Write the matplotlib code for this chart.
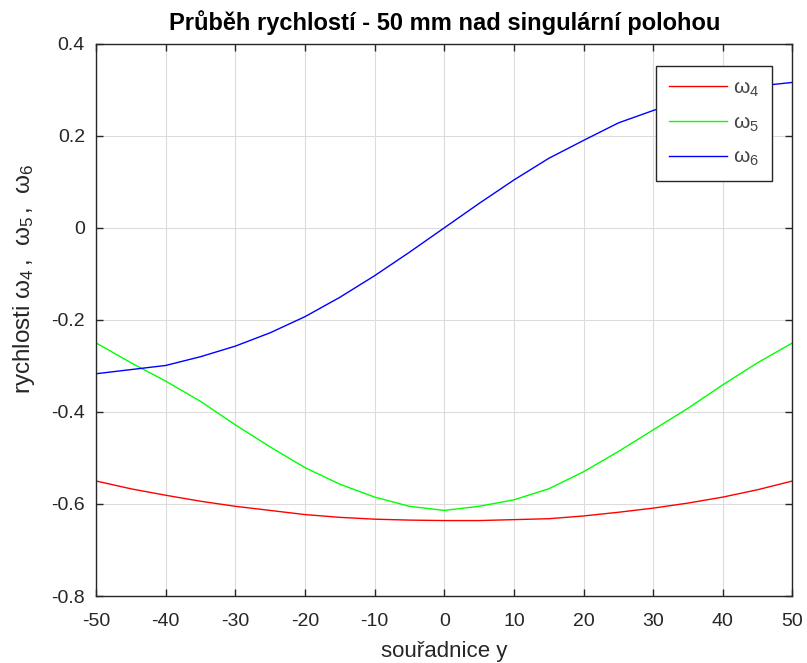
import matplotlib
matplotlib.use("Agg")
import matplotlib.pyplot as plt

plt.rcParams['font.family'] = ['Liberation Sans', 'DejaVu Sans']
plt.rcParams['mathtext.fontset'] = 'custom'
plt.rcParams['mathtext.rm'] = 'Liberation Sans'
plt.rcParams['mathtext.it'] = 'Liberation Sans'
plt.rcParams['axes.unicode_minus'] = False

# souřadnice y
y_coord = [-50, -45, -40, -35, -30, -25, -20, -15, -10, -5, 0,
           5, 10, 15, 20, 25, 30, 35, 40, 45, 50]

# omega 4 (red)
w4 = [-0.550, -0.567, -0.581, -0.594, -0.605, -0.614, -0.623, -0.629, -0.633, -0.635, -0.636,
      -0.636, -0.634, -0.632, -0.626, -0.618, -0.609, -0.598, -0.585, -0.569, -0.550]

# omega 5 (green)
w5 = [-0.250, -0.293, -0.333, -0.377, -0.428, -0.476, -0.521, -0.557, -0.585, -0.605, -0.614,
      -0.605, -0.591, -0.567, -0.530, -0.486, -0.439, -0.392, -0.341, -0.293, -0.250]

# omega 6 (blue)
w6 = [-0.317, -0.308, -0.299, -0.280, -0.257, -0.228, -0.193, -0.151, -0.104, -0.053, 0.000,
      0.053, 0.104, 0.151, 0.190, 0.228, 0.255, 0.279, 0.297, 0.308, 0.316]

labels = [r'$\omega_4$', r'$\omega_5$', r'$\omega_6$']
xticks = list(range(-50, 51, 10))
yticks = [-0.8, -0.6, -0.4, -0.2, 0, 0.2, 0.4]
ytick_labels = ['-0.8', '-0.6', '-0.4', '-0.2', '0', '0.2', '0.4']

fig = plt.figure(figsize=(8.07, 6.63), dpi=100)
ax = fig.add_axes([0.119, 0.101, 0.863, 0.833])

ax.plot(y_coord, w4, color='#ff0000', lw=1.0, label=labels[0])
ax.plot(y_coord, w5, color='#00ff00', lw=1.0, label=labels[1])
ax.plot(y_coord, w6, color='#0000ff', lw=1.0, label=labels[2])

ax.set_xlim(-50, 50)
ax.set_ylim(-0.8, 0.4)
ax.set_xticks(xticks)
ax.set_yticks(yticks)
ax.set_yticklabels(ytick_labels)
ax.grid(True, color='#dcdcdc', lw=0.8)
ax.set_axisbelow(True)

dark = '#262626'
for s in ax.spines.values():
    s.set_color(dark)
    s.set_linewidth(1.0)
ax.tick_params(direction='in', top=True, right=True, length=5, width=1.0,
               colors=dark, labelsize=14)
ax.tick_params(axis='x', pad=12)
ax.tick_params(axis='y', pad=8)

ax.set_title('Průběh rychlostí - 50 mm nad singulární polohou',
             fontsize=17, fontweight='bold', color='black', pad=10)
ax.set_xlabel('souřadnice y', fontsize=16, color=dark, labelpad=8)
ax.set_ylabel(r'rychlosti $\omega_{4}\,$,  $\omega_{5}\,$,  $\omega_{6}$', fontsize=17.5, color=dark)
ax.yaxis.set_label_coords(-0.085, 0.574)

leg = ax.legend(loc='upper right', fontsize=15, frameon=True, fancybox=False,
                framealpha=1.0, edgecolor=dark, handlelength=2.8, handletextpad=0.3,
                borderpad=0.6, labelspacing=0.7, borderaxespad=0.0,
                bbox_to_anchor=(0.9706, 0.960))
leg.get_frame().set_linewidth(1.0)
for t in leg.get_texts():
    t.set_color('#444444')

fig.savefig('out.png', dpi=100)
